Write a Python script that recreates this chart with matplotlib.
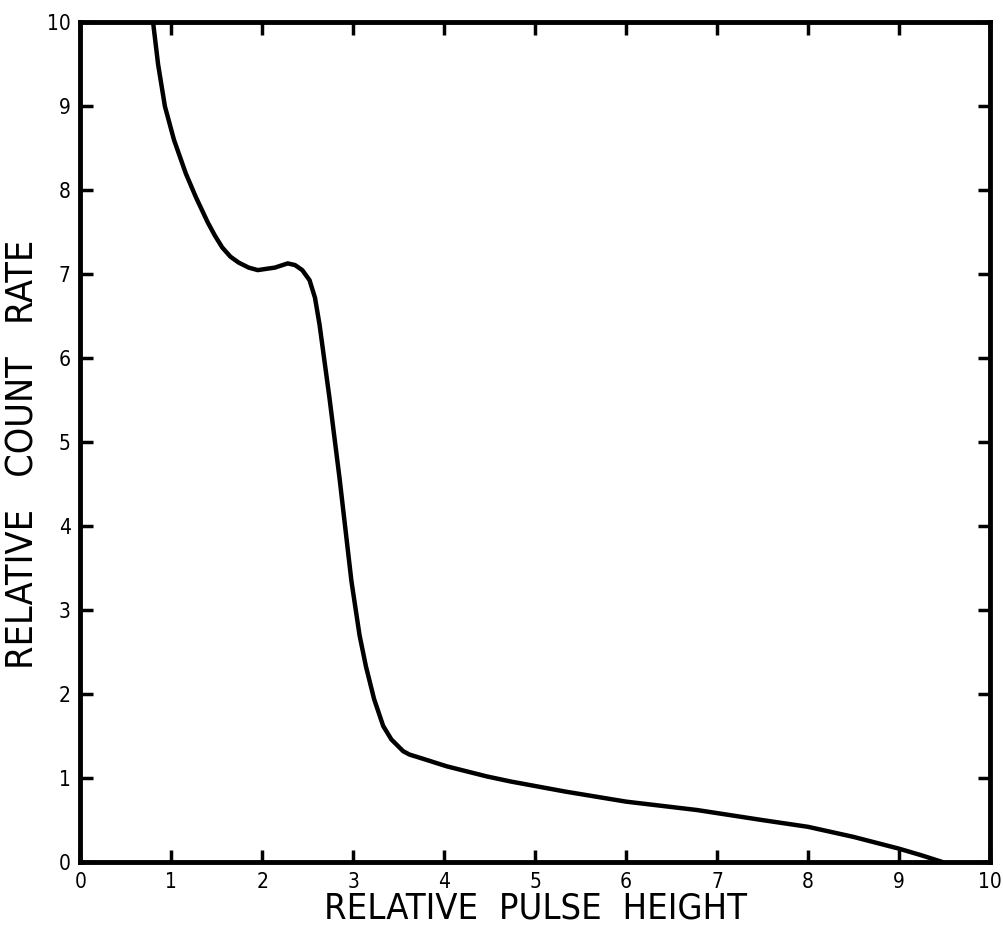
import matplotlib
matplotlib.use('Agg')
import matplotlib.pyplot as plt

# curve
pulse_height = [0.80, 0.855, 0.93, 1.03, 1.16, 1.27, 1.40, 1.48, 1.56, 1.65,
                1.74, 1.85, 1.95, 2.14, 2.28, 2.36, 2.44, 2.52, 2.58, 2.63,
                2.68, 2.74, 2.85, 2.98, 3.07, 3.14, 3.23, 3.33, 3.42, 3.55,
                3.62, 3.71, 4.03, 4.47, 4.73, 5.33, 6.00, 6.78, 7.50, 8.00,
                8.50, 9.00, 9.25, 9.48]
count_rate = [10.0, 9.50, 9.00, 8.60, 8.20, 7.92, 7.62, 7.46, 7.32, 7.21,
              7.14, 7.08, 7.05, 7.08, 7.13, 7.11, 7.05, 6.93, 6.72, 6.40,
              6.00, 5.52, 4.57, 3.35, 2.70, 2.33, 1.94, 1.62, 1.46, 1.32,
              1.28, 1.25, 1.14, 1.02, 0.96, 0.84, 0.72, 0.62, 0.50, 0.42,
              0.30, 0.16, 0.08, 0.0]
ticks = list(range(0, 11))

plt.rcParams['font.family'] = ['DejaVu Sans']
plt.rcParams['font.stretch'] = 'condensed'

fig = plt.figure(figsize=(10.04, 9.33), dpi=100)
ax = fig.add_axes([0.080, 0.076, 0.906, 0.900])

ax.plot(pulse_height, count_rate, color='black', lw=3.2,
        solid_capstyle='round', solid_joinstyle='round')

ax.set_xlim(0, 10)
ax.set_ylim(0, 10)
ax.set_xticks(ticks)
ax.set_yticks(ticks)
ax.tick_params(direction='in', length=9, width=2.5, labelsize=15,
               top=True, right=True, pad=7)
for s in ax.spines.values():
    s.set_linewidth(3.5)

ax.set_xlabel('RELATIVE  PULSE  HEIGHT', fontsize=26, labelpad=0)
ax.set_ylabel('RELATIVE   COUNT   RATE', fontsize=27)
ax.yaxis.set_label_coords(-0.043, 0.485)

fig.savefig('out.png', dpi=100)
